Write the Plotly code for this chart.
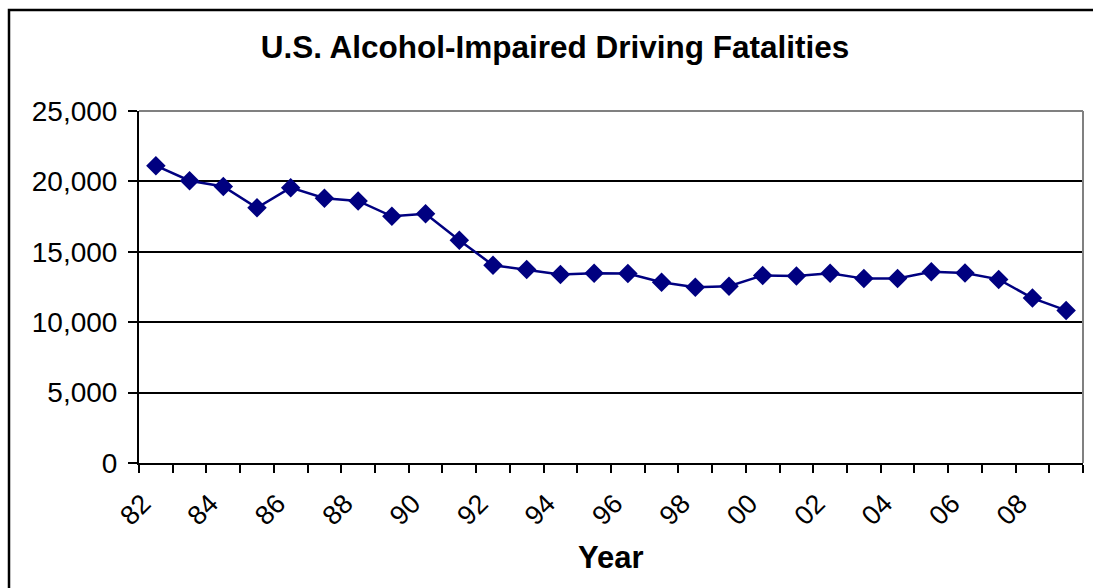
import plotly.graph_objects as go

years = [str(y) for y in range(1982, 2010)]
fatalities = [21113, 20051, 19638, 18125, 19554, 18808, 18611, 17521, 17705, 15827,
              14049, 13739, 13390, 13478, 13451, 12835, 12486, 12555, 13324, 13290,
              13472, 13096, 13099, 13582, 13491, 13041, 11711, 10839]
tick_labels = ["82", "", "84", "", "86", "", "88", "", "90", "", "92", "", "94", "",
               "96", "", "98", "", "00", "", "02", "", "04", "", "06", "", "08", ""]

W, H = 1093, 588
L, R, T, B = 139, 10, 111, 125
pw, ph = W - L - R, H - T - B

def px(x):
    return (x - L) / pw

def py(y):
    return (H - B - y) / ph

font = "Liberation Sans, Arial, sans-serif"
fig = go.Figure()
fig.add_trace(go.Scatter(
    x=years, y=fatalities, mode="lines+markers",
    line=dict(color="#000080", width=2.5),
    marker=dict(symbol="diamond", size=15, color="#000080"),
    hoverinfo="x+y", showlegend=False,
))

fig.update_layout(
    width=W, height=H,
    margin=dict(l=L, r=R, t=T, b=B),
    paper_bgcolor="white", plot_bgcolor="white",
    font=dict(family=font, color="black"),
    title=dict(text="<b>U.S. Alcohol-Impaired Driving Fatalities</b>",
               x=555 / W, xanchor="center",
               y=1 - 47 / H, yanchor="middle",
               font=dict(size=31.5, family=font, color="black")),
    xaxis=dict(type="category", tickvals=years, ticktext=tick_labels,
               tickson="boundaries", ticks="outside", ticklen=8, tickwidth=2,
               tickcolor="black", showline=True, linecolor="black", linewidth=2,
               showgrid=False, tickangle=-45, tickfont=dict(size=27, family=font),
               range=[-0.5, len(years) - 0.5], zeroline=False,
               ticklabelstandoff=12, ticklabelshift=-13),
    yaxis=dict(range=[0, 25000], dtick=5000, tickformat=",", ticks="outside",
               ticklen=9, tickwidth=2, tickcolor="black", showline=True,
               linecolor="black", linewidth=2, showgrid=True, gridcolor="black",
               gridwidth=2, tickfont=dict(size=28, family=font), zeroline=False,
               ticklabelstandoff=5),
    annotations=[dict(text="<b>Year</b>", x=0.5, y=py(557), xref="paper", yref="paper",
                      xanchor="center", yanchor="middle", showarrow=False,
                      font=dict(size=31, family=font, color="black"))],
    shapes=[
        dict(type="line", xref="paper", yref="paper", x0=0, x1=1, y0=1, y1=1,
             line=dict(color="#808080", width=2)),
        dict(type="line", xref="paper", yref="paper", x0=1, x1=1, y0=0, y1=1,
             line=dict(color="#808080", width=2)),
        dict(type="rect", xref="paper", yref="paper", x0=px(9), x1=px(1110),
             y0=py(610), y1=py(10), line=dict(color="black", width=2.5),
             fillcolor="rgba(0,0,0,0)", layer="above"),
    ],
)

fig.write_html("out.html", config={"displayModeBar": False},
               post_script="document.body.style.margin='0';document.body.style.padding='0';")
